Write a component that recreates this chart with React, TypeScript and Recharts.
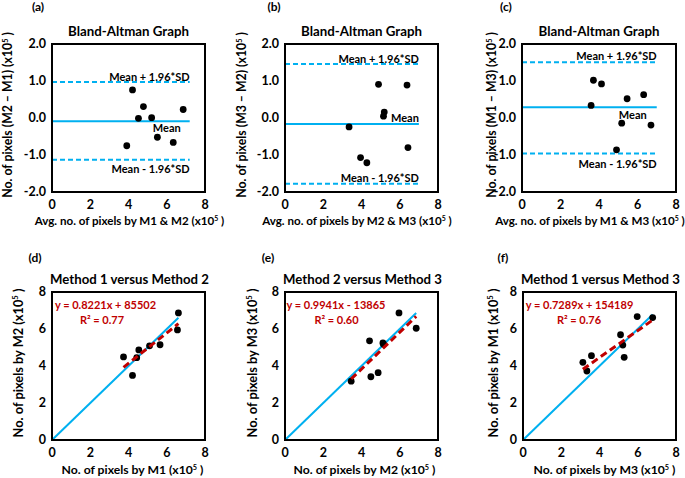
import React from "react";
import { ScatterChart, Scatter, XAxis, YAxis } from "recharts";

// ---- data (values in units of 10^5 pixels) ----

// (a) M2 - M1
const avgA = [4.21, 4.78, 4.52, 5.21, 6.86, 3.91, 5.51, 6.34];
const diffA = [0.76, 0.31, -0.01, 0.01, 0.23, -0.75, -0.52, -0.66];
const statsA = { mean: -0.09, upper: 0.97, lower: -1.13, end: 7.2 };

// (b) M3 - M2
const avgB = [4.89, 6.38, 5.19, 5.15, 3.35, 6.43, 3.95, 4.28];
const diffB = [0.91, 0.89, 0.16, 0.05, -0.24, -0.8, -1.07, -1.21];
const statsB = { mean: -0.16, upper: 1.46, lower: -1.78, end: 7.0 };

// (c) M1 - M3
const avgC = [3.71, 4.13, 3.59, 5.46, 6.32, 5.18, 6.7, 4.91];
const diffC = [1.02, 0.92, 0.34, 0.52, 0.63, -0.14, -0.19, -0.86];
const statsC = { mean: 0.29, upper: 1.51, lower: -0.96, end: 7.0 };

// (d) M1 vs M2
const m1D = [6.61, 6.56, 5.65, 5.1, 4.54, 4.43, 3.74, 4.21];
const m2D = [6.87, 5.95, 5.15, 5.09, 4.87, 4.45, 4.49, 3.49];
const fitD = { slope: 0.8221, intercept: 0.85502 };

// (e) M2 vs M3
const m2E = [5.96, 6.86, 4.42, 5.12, 5.15, 4.87, 4.49, 3.46];
const m3E = [6.87, 6.04, 5.36, 5.25, 5.18, 3.64, 3.42, 3.18];
const fitE = { slope: 0.9941, intercept: -0.13865 };

// (f) M3 vs M1
const m3F = [5.97, 6.78, 5.1, 5.22, 5.29, 3.58, 3.13, 3.34];
const m1F = [6.67, 6.62, 5.69, 5.13, 4.47, 4.56, 4.2, 3.73];
const fitF = { slope: 0.7289, intercept: 1.54189 };

const xTicks = [0, 2, 4, 6, 8];
const diffTicks = [2, 1.5, 1, 0.5, 0, -0.5, -1, -1.5, -2];

// ---- styling ----
const FONT = "Lato, 'Open Sans', sans-serif";
const BLUE = "#00B0F0";
const RED = "#C00000";
const PLOT_L = 52;
const PLOT_T = 44;
const PLOT_H = 148;
const PANEL_W = 232;
const PANEL_H = 245;

type Pt = { x: number; y: number };
const zip = (xs: number[], ys: number[]): Pt[] => xs.map((x, i) => ({ x, y: ys[i] }));

const noShape = () => <g />;
const dot = (p: any) => <circle cx={p.cx} cy={p.cy} r={3.4} fill="#000" />;

const tickStyle = { fontSize: 12.5, fontWeight: 700, fill: "#000", fontFamily: FONT };

function Txt({ x, y, size = 11, color = "#000", anchor = "middle", children }: any) {
  const tx = anchor === "middle" ? "-50%" : anchor === "end" ? "-100%" : "0";
  return (
    <div
      style={{
        position: "absolute",
        left: x,
        top: y,
        transform: `translate(${tx}, -50%)`,
        whiteSpace: "nowrap",
        fontSize: size,
        fontWeight: 700,
        color,
        fontFamily: FONT,
        lineHeight: 1,
      }}
    >
      {children}
    </div>
  );
}

function VTxt({ x, y, size = 11, children }: any) {
  return (
    <div
      style={{
        position: "absolute",
        left: x,
        top: y,
        transform: "translate(-50%, -50%) rotate(-90deg)",
        whiteSpace: "nowrap",
        fontSize: size,
        fontWeight: 700,
        fontFamily: FONT,
        lineHeight: 1.1,
      }}
    >
      {children}
    </div>
  );
}

const X10 = () => (
  <>
    (x10<sup style={{ fontSize: "0.6em", verticalAlign: "0.6em" }}>5</sup> )
  </>
);

// plot-area outline, sitting on the same box the chart margins define
function PlotBorder({ plotW }: { plotW: number }) {
  return (
    <div
      style={{
        position: "absolute",
        left: PLOT_L - 1,
        top: PLOT_T - 1,
        width: plotW + 2,
        height: PLOT_H + 2,
        boxSizing: "border-box",
        border: "2px solid #000",
      }}
    />
  );
}

function Frame({ ox, oy, plotW, yDomain, yTicks, fmt, children }: any) {
  return (
    <div style={{ position: "absolute", left: ox, top: oy, width: PANEL_W, height: PANEL_H }}>
      <ScatterChart
        width={PANEL_W}
        height={PANEL_H}
        margin={{ top: PLOT_T, left: 0, right: PANEL_W - PLOT_L - plotW, bottom: 0 }}
      >
        <XAxis
          type="number"
          dataKey="x"
          domain={[0, 8]}
          ticks={xTicks}
          height={PANEL_H - PLOT_T - PLOT_H}
          axisLine={false}
          tickLine={false}
          tick={tickStyle}
        />
        <YAxis
          type="number"
          dataKey="y"
          domain={yDomain}
          ticks={yTicks}
          width={PLOT_L}
          axisLine={false}
          tickLine={false}
          tickSize={4}
          tickMargin={2}
          tickFormatter={fmt}
          tick={tickStyle}
        />
        {children}
      </ScatterChart>
    </div>
  );
}

function BlandAltman(props: any) {
  const { ox, oy, plotW, tag, tagX, avg, diff, stats, yTitle, yTitleX, xTitle, xTitleX, lbl } = props;
  const py = (v: number) => PLOT_T + ((2 - v) / 4) * PLOT_H;
  const px = (v: number) => PLOT_L + (v / 8) * plotW;
  const seg = (v: number) => [{ x: 0, y: v }, { x: stats.end, y: v }];
  const endX = px(stats.end);
  return (
    <>
      <Frame ox={ox} oy={oy} plotW={plotW} yDomain={[-2, 2]} yTicks={diffTicks} fmt={(v: number) => v.toFixed(1)}>
        <Scatter data={seg(stats.upper)} shape={noShape} line={{ stroke: BLUE, strokeWidth: 2, strokeDasharray: "5 3" }} isAnimationActive={false} />
        <Scatter data={seg(stats.lower)} shape={noShape} line={{ stroke: BLUE, strokeWidth: 2, strokeDasharray: "5 3" }} isAnimationActive={false} />
        <Scatter data={seg(stats.mean)} shape={noShape} line={{ stroke: BLUE, strokeWidth: 2 }} isAnimationActive={false} />
        <Scatter data={zip(avg, diff)} shape={dot} isAnimationActive={false} />
      </Frame>
      <div style={{ position: "absolute", left: ox, top: oy, width: PANEL_W, height: PANEL_H }}>
        <PlotBorder plotW={plotW} />
        <Txt x={tagX} y={7} size={12}>{tag}</Txt>
        <Txt x={PLOT_L + plotW / 2} y={32} size={13.3}>Bland-Altman Graph</Txt>
        <VTxt x={yTitleX} y={115} size={12.3}>{yTitle} <X10 /></VTxt>
        <Txt x={xTitleX} y={221} size={11.6}>{xTitle} <X10 /></Txt>
        <Txt x={endX} y={py(stats.upper) + lbl.up} anchor="end">Mean + 1.96*SD</Txt>
        <Txt x={endX} y={py(stats.lower) + lbl.low} anchor="end">Mean - 1.96*SD</Txt>
        <Txt x={endX + lbl.meanDx} y={py(stats.mean) + lbl.mean} anchor="end">Mean</Txt>
      </div>
    </>
  );
}

function Agreement(props: any) {
  const { ox, oy, plotW, tag, tagX, xs, ys, fit, title, yTitle, yTitleX, xTitle, xTitleX, eq, r2, eqX, r2X } = props;
  const lo = Math.min(...xs);
  const hi = Math.max(...xs);
  const identity = [{ x: 0, y: 0 }, { x: hi, y: hi }];
  const trend = [lo, hi].map((x) => ({ x, y: fit.slope * x + fit.intercept }));
  return (
    <>
      <Frame ox={ox} oy={oy} plotW={plotW} yDomain={[0, 8]} yTicks={xTicks}>
        <Scatter data={identity} shape={noShape} line={{ stroke: BLUE, strokeWidth: 2 }} isAnimationActive={false} />
        <Scatter data={zip(xs, ys)} shape={dot} isAnimationActive={false} />
        <Scatter data={trend} shape={noShape} line={{ stroke: RED, strokeWidth: 3, strokeDasharray: "7 4" }} isAnimationActive={false} />
      </Frame>
      <div style={{ position: "absolute", left: ox, top: oy, width: PANEL_W, height: PANEL_H }}>
        <PlotBorder plotW={plotW} />
        <Txt x={tagX} y={10} size={12}>{tag}</Txt>
        <Txt x={PLOT_L + plotW / 2 + 1} y={32} size={13.2}>{title}</Txt>
        <VTxt x={yTitleX} y={115} size={12.8}>{yTitle} <X10 /></VTxt>
        <Txt x={xTitleX} y={222} size={12.2}>{xTitle} <X10 /></Txt>
        <Txt x={eqX} y={56} size={11}>
          <span style={{ color: RED }}>{eq}</span>
        </Txt>
        <Txt x={r2X} y={71} size={11}>
          <span style={{ color: RED }}>R² = {r2}</span>
        </Txt>
      </div>
    </>
  );
}

export default function App() {
  return (
    <div style={{ position: "absolute", left: 0, top: 0, width: 685, height: 478, background: "#fff", overflow: "hidden" }}>
      <BlandAltman
        ox={0} oy={0} plotW={153} tag="(a)" tagX={38}
        avg={avgA} diff={diffA} stats={statsA}
        yTitle="No. of pixels (M2 – M1)" yTitleX={8}
        xTitle="Avg. no. of pixels by M1 & M2" xTitleX={129.5}
        lbl={{ up: -6, low: 8, mean: 6, meanDx: -9 }}
      />
      <BlandAltman
        ox={233} oy={0} plotW={153} tag="(b)" tagX={41}
        avg={avgB} diff={diffB} stats={statsB}
        yTitle="No. of pixels (M3 – M2)" yTitleX={9}
        xTitle="Avg. no. of pixels by M2 & M3" xTitleX={124}
        lbl={{ up: -6, low: -7, mean: -7, meanDx: 0 }}
      />
      <BlandAltman
        ox={470} oy={0} plotW={154} tag="(c)" tagX={36}
        avg={avgC} diff={diffC} stats={statsC}
        yTitle="No. of pixels (M1 – M3)" yTitleX={22}
        xTitle="Avg. no. of pixels by M1 & M3" xTitleX={120}
        lbl={{ up: -7, low: 9, mean: 7, meanDx: -10 }}
      />
      <Agreement
        ox={0} oy={248} plotW={153} tag="(d)" tagX={35}
        xs={m1D} ys={m2D} fit={fitD}
        title="Method 1 versus Method 2"
        yTitle="No. of pixels by M2 " yTitleX={18}
        xTitle="No. of pixels by M1 " xTitleX={132.5}
        eq="y = 0.8221x + 85502" r2="0.77" eqX={105.5} r2X={102}
      />
      <Agreement
        ox={233} oy={248} plotW={153} tag="(e)" tagX={35}
        xs={m2E} ys={m3E} fit={fitE}
        title="Method 2 versus Method 3"
        yTitle="No. of pixels by M3 " yTitleX={19}
        xTitle="No. of pixels by M2 " xTitleX={131.5}
        eq="y = 0.9941x - 13865" r2="0.60" eqX={103} r2X={103.5}
      />
      <Agreement
        ox={471} oy={248} plotW={153} tag="(f)" tagX={32}
        xs={m3F} ys={m1F} fit={fitF}
        title="Method 1 versus Method 3"
        yTitle="No. of pixels by M1" yTitleX={22}
        xTitle="No. of pixels by M3 " xTitleX={133.5}
        eq="y = 0.7289x + 154189" r2="0.76" eqX={108.5} r2X={108}
      />
    </div>
  );
}
